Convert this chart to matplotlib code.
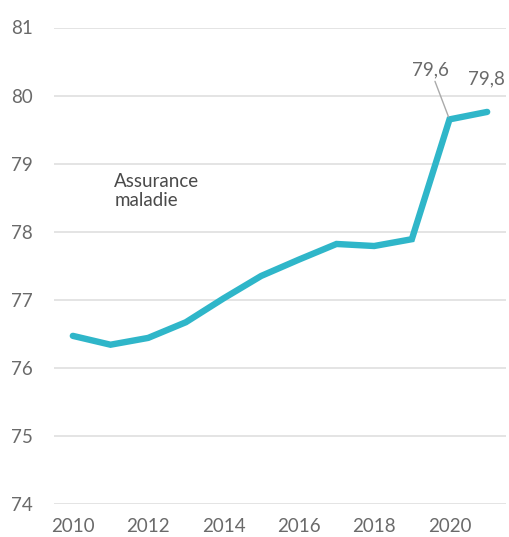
import matplotlib
matplotlib.use("Agg")
import matplotlib.pyplot as plt

plt.rcParams["font.family"] = ["Lato", "DejaVu Sans"]

years = [2010, 2011, 2012, 2013, 2014, 2015, 2016, 2017, 2018, 2019, 2020, 2021]
values = [76.47, 76.34, 76.44, 76.67, 77.02, 77.35, 77.59, 77.82, 77.79, 77.89, 79.65, 79.76]
xticks = [2010, 2012, 2014, 2016, 2018, 2020]
yticks = [74, 75, 76, 77, 78, 79, 80, 81]
series_name = "Assurance\nmaladie"
labels = {2020: "79,6", 2021: "79,8"}

fig = plt.figure(figsize=(5.1, 5.37), dpi=100)
ax = fig.add_axes([54 / 510, 33 / 537, 452 / 510, 476.5 / 537])

line_color = "#2fb6c9"
txt_color = "#6a6a6a"
fs = 13.5

ax.plot(years, values, color=line_color, linewidth=4.6, solid_capstyle="round",
        solid_joinstyle="miter", zorder=3)

ax.set_xlim(2009.5, 2021.5)
ax.set_ylim(74, 81)
ax.set_xticks(xticks)
ax.set_yticks(yticks)
ax.grid(axis="y", color="#e4e4e4", linewidth=1.4)
ax.set_axisbelow(True)
for s in ax.spines.values():
    s.set_visible(False)
ax.tick_params(length=0, labelsize=fs, labelcolor=txt_color)
ax.tick_params(axis="y", pad=15)
ax.tick_params(axis="x", pad=10)

ax.text(2011.1, 78.6, series_name, fontsize=fs, color="#4a4a4a",
        va="center", ha="left", linespacing=1.1)

# labels for the last two points
ax.annotate(labels[2020], xy=(years[10], values[10]), xytext=(2019.5, 80.25),
            fontsize=fs, color=txt_color, ha="center", va="bottom",
            arrowprops=dict(arrowstyle="-", color="#aaaaaa", linewidth=1.0,
                            shrinkA=0, shrinkB=2))
ax.text(years[11] - 0.02, 80.12, labels[2021], fontsize=fs, color=txt_color,
        ha="center", va="bottom", clip_on=False)

fig.savefig("out.png", dpi=100)
